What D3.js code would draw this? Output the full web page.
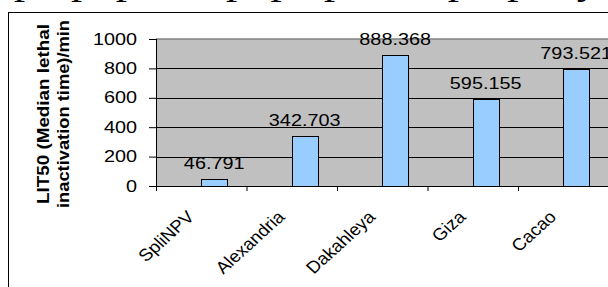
<!DOCTYPE html>
<html>
<head>
<meta charset="utf-8">
<script src="https://cdn.jsdelivr.net/npm/d3@7/dist/d3.min.js"></script>
<style>
  html, body { margin: 0; padding: 0; background: #fff; overflow: hidden; }
  svg { display: block; }
</style>
</head>
<body>
<svg id="chart" width="608" height="287"></svg>
<script>
// isolates on the x axis
const categories = ['SpliNPV', 'Alexandria', 'Dakahleya', 'Giza', 'Cacao'];
// LIT50 values (min)
const lit50 = [46.791, 342.703, 888.368, 595.155, 793.521];
const valueLabels = ['46.791', '342.703', '888.368', '595.155', '793.521'];
const yTicks = [0, 200, 400, 600, 800, 1000];
const yTitle = ['LIT50 (Median lethal', 'inactivation time)/min'];
// bit of the page text cut off above the figure
const pageText = 'prepupa, to pupa phase, properly';

const sx = 1.24; // the picture is stretched sideways
const svg = d3.select('#chart');

// page text, only the descenders show
svg.append('text')
    .attr('transform', `translate(14,-6) scale(${sx},1)`)
    .attr('font-family', 'Liberation Serif')
    .attr('font-size', 36)
    .attr('fill', '#000')
    .text(pageText);

// chart frame
svg.append('rect')
    .attr('x', 8.5).attr('y', 12.5)
    .attr('width', 700).attr('height', 400)
    .attr('fill', '#fff')
    .attr('stroke', '#000');

const pLeft = 156, pRight = 608.5, pTop = 39, pBottom = 186;

const x = d3.scaleBand().domain(categories).range([pLeft, pRight]).padding(0);
const xb = d3.scaleLinear().domain([0, categories.length]).range([pLeft, pRight]);
const y = d3.scaleLinear().domain([0, 1000]).range([pBottom, pTop]);

// plot area
svg.append('rect')
    .attr('x', pLeft).attr('y', pTop)
    .attr('width', pRight - pLeft).attr('height', pBottom - pTop)
    .attr('fill', '#c0c0c0');

// gridlines
svg.append('g')
    .selectAll('line')
    .data(yTicks.filter(d => d > 0 && d < 1000))
    .enter()
    .append('line')
    .attr('x1', pLeft).attr('x2', pRight)
    .attr('y1', d => Math.round(y(d)) + 0.5).attr('y2', d => Math.round(y(d)) + 0.5)
    .attr('stroke', '#000');

svg.append('line')
    .attr('x1', pLeft).attr('x2', pRight)
    .attr('y1', y(1000)).attr('y2', y(1000))
    .attr('stroke', '#808080').attr('stroke-width', 1.5);
svg.append('line')
    .attr('x1', pRight).attr('x2', pRight)
    .attr('y1', pTop).attr('y2', pBottom)
    .attr('stroke', '#808080');

// bars: second slot of each category, first slot is empty
const bw = x.bandwidth() / 3.5;
svg.append('g')
    .selectAll('rect')
    .data(lit50)
    .enter()
    .append('rect')
    .attr('x', (d, i) => Math.round(x(categories[i]) + x.bandwidth() / 2) + 0.5)
    .attr('y', d => Math.round(y(d)) + 0.5)
    .attr('width', Math.round(bw))
    .attr('height', d => Math.round(pBottom) - Math.round(y(d)))
    .attr('fill', '#99ccff')
    .attr('stroke', '#000');

// value labels above the bars
svg.append('g')
    .selectAll('text')
    .data(lit50)
    .enter()
    .append('text')
    .attr('transform', (d, i) => `translate(${x(categories[i]) + x.bandwidth() / 2 + bw / 2},${y(d) - 10}) scale(${sx},1)`)
    .attr('text-anchor', 'middle')
    .attr('font-family', 'Liberation Sans')
    .attr('font-size', 16)
    .text((d, i) => valueLabels[i]);

// y axis
const yAxis = svg.append('g')
    .attr('transform', `translate(${pLeft},0)`)
    .call(d3.axisLeft(y).tickValues(yTicks).tickSize(7).tickFormat(d3.format('d')));
yAxis.select('.domain').attr('stroke', '#000').attr('d', `M0.5,${pTop}V${pBottom}`);
yAxis.selectAll('.tick line').attr('stroke', '#000');
yAxis.selectAll('.tick text')
    .attr('x', 0)
    .attr('transform', `translate(-19,0) scale(${sx},1)`)
    .attr('font-family', 'Liberation Sans')
    .attr('font-size', 16)
    .attr('fill', '#000');

// x axis, ticks between categories
const xAxis = svg.append('g')
    .attr('transform', `translate(0,${pBottom})`)
    .call(d3.axisBottom(xb).tickValues(d3.range(categories.length + 1)).tickSize(5).tickFormat(''));
xAxis.select('.domain').attr('stroke', '#000').attr('d', `M${pLeft},0.5H${pRight}`);
xAxis.selectAll('.tick line').attr('stroke', '#000');

// slanted category labels
svg.append('g')
    .selectAll('text')
    .data(categories)
    .enter()
    .append('text')
    .attr('transform', d => `translate(${x(d) + x.bandwidth() / 2 - 6},218) scale(1.1,1) rotate(-45)`)
    .attr('text-anchor', 'end')
    .attr('font-family', 'Liberation Sans')
    .attr('font-size', 17)
    .text(d => d);

// y axis title, two lines
svg.append('g')
    .selectAll('text')
    .data(yTitle)
    .enter()
    .append('text')
    .attr('transform', (d, i) => `translate(${49 + i * 20},${114}) rotate(-90)`)
    .attr('text-anchor', 'middle')
    .attr('font-family', 'Liberation Sans')
    .attr('font-weight', 'bold')
    .attr('font-size', 17)
    .attr('textLength', (d, i) => i === 0 ? 180 : 188)
    .attr('lengthAdjust', 'spacingAndGlyphs')
    .text(d => d);
</script>
</body>
</html>
